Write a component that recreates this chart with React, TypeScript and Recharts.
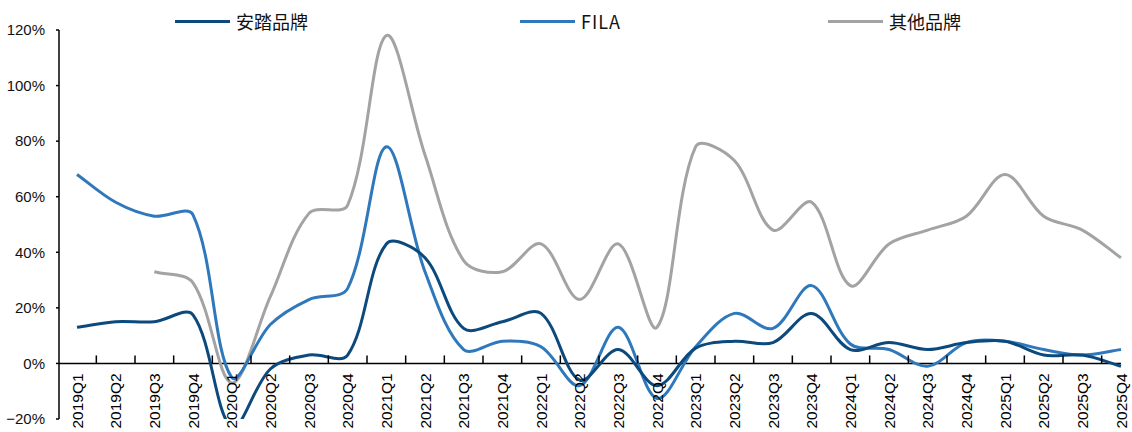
import React from 'react';
import { LineChart, Line, XAxis, YAxis, ReferenceLine } from 'recharts';

const quarters = [
  '2019Q1', '2019Q2', '2019Q3', '2019Q4',
  '2020Q1', '2020Q2', '2020Q3', '2020Q4',
  '2021Q1', '2021Q2', '2021Q3', '2021Q4',
  '2022Q1', '2022Q2', '2022Q3', '2022Q4',
  '2023Q1', '2023Q2', '2023Q3', '2023Q4',
  '2024Q1', '2024Q2', '2024Q3', '2024Q4',
  '2025Q1', '2025Q2', '2025Q3', '2025Q4',
];

// growth rates, %
const anta = [13, 15, 15, 17.5, -23, -2, 3, 3, 43, 38, 12.6, 15, 18, -6, 5, -8, 5.5, 8, 7.5, 18, 5, 7.5, 5, 7.5, 8, 3, 3, -1];
const fila = [68, 58, 53, 53.5, -5, 14, 23, 27, 78, 33, 5, 8, 6, -8, 13, -12.6, 6, 18, 12.6, 28, 7, 5, -1, 7.5, 8, 5, 3, 5];
const others = [null, null, 33, 29, -7, 24, 54, 57, 118, 75, 37, 33, 43, 23, 43, 13, 78, 73, 48, 58, 28, 43, 48, 53, 68, 53, 48, 38];

const yTicks = [-20, 0, 20, 40, 60, 80, 100, 120];

const W = 1132;
const H = 432;
const X_AXIS_H = 13;
const M = { top: 30, right: 11, bottom: 0, left: 0 };
const Y_AXIS_W = 59;
const PAD_LEFT = 18;
const plotH = H - M.top - M.bottom - X_AXIS_H;
const plotW = W - M.left - M.right - Y_AXIS_W;
const yMax = yTicks[yTicks.length - 1];
const yMin = yTicks[0];
const zeroY = M.top + (plotH * yMax) / (yMax - yMin);
const step = (plotW - PAD_LEFT) / (quarters.length - 1);

const COLORS = { anta: '#0c4a7d', fila: '#2f78bb', others: '#a3a3a3' };

const data = quarters.map((q, i) => ({ q, anta: anta[i], fila: fila[i], others: others[i] }));

// Excel-like smoothing: Catmull-Rom tangents, control arms weighted by segment length
function excelCurve(context: any) {
  let pts: number[][] = [];
  const dist = (a: number[], b: number[]) => Math.hypot(b[0] - a[0], b[1] - a[1]);
  return {
    areaStart() {},
    areaEnd() {},
    lineStart() {
      pts = [];
    },
    point(x: number, y: number) {
      pts.push([+x, +y]);
    },
    lineEnd() {
      const n = pts.length;
      if (!n) return;
      context.moveTo(pts[0][0], pts[0][1]);
      if (n === 1) return;
      const outCp: number[][] = [];
      const inCp: number[][] = [];
      for (let i = 0; i < n; i++) {
        const p = pts[i];
        const prev = pts[i - 1];
        const next = pts[i + 1];
        if (!prev || !next) {
          const other = prev || next;
          const t = [(other[0] - p[0]) / 3, (other[1] - p[1]) / 3];
          outCp[i] = [p[0] + t[0], p[1] + t[1]];
          inCp[i] = [p[0] + t[0], p[1] + t[1]];
          continue;
        }
        const d1 = dist(prev, p);
        const d2 = dist(p, next);
        const tx = next[0] - prev[0];
        const ty = next[1] - prev[1];
        const s = d1 + d2 || 1;
        outCp[i] = [p[0] + (tx * d2) / s / 3, p[1] + (ty * d2) / s / 3];
        inCp[i] = [p[0] - (tx * d1) / s / 3, p[1] - (ty * d1) / s / 3];
      }
      for (let i = 0; i < n - 1; i++) {
        context.bezierCurveTo(outCp[i][0], outCp[i][1], inCp[i + 1][0], inCp[i + 1][1], pts[i + 1][0], pts[i + 1][1]);
      }
    },
  };
}

const renderXTick = (props: any) => {
  const { x, index, payload } = props;
  const last = index === quarters.length - 1;
  return (
    <g key={`t-${index}`}>
      {!last && (
        <line x1={x + step / 2} x2={x + step / 2} y1={zeroY - 8} y2={zeroY} stroke="#000" strokeWidth={1.5} />
      )}
      <text
        transform={`translate(${x},${zeroY + 10}) rotate(-90)`}
        textAnchor="end"
        dominantBaseline="central"
        fontSize={15.5}
        fontFamily="'Liberation Sans', Arial, sans-serif"
        fill="#000"
      >
        {payload.value}
      </text>
    </g>
  );
};

const fmtPct = (v: number) => (v < 0 ? `\u2212${Math.abs(v)}%` : `${v}%`);

const legendItems = [
  { name: '安踏品牌', color: COLORS.anta, left: 175, spacing: 0 },
  { name: 'FILA', color: COLORS.fila, left: 520, spacing: 1 },
  { name: '其他品牌', color: COLORS.others, left: 828, spacing: 0 },
];

export default function App() {
  return (
    <div style={{ position: 'absolute', left: 0, top: 0, width: W, height: H, overflow: 'hidden', background: '#fff' }}>
      <LineChart width={W} height={H} data={data} margin={M}>
        <XAxis
          dataKey="q"
          height={X_AXIS_H}
          padding={{ left: PAD_LEFT, right: 0 }}
          axisLine={false}
          tickLine={false}
          interval={0}
          tick={renderXTick}
        />
        <YAxis
          width={Y_AXIS_W}
          domain={[yMin, yMax]}
          ticks={yTicks}
          allowDataOverflow
          tickFormatter={fmtPct}
          axisLine={{ stroke: '#000', strokeWidth: 1.5 }}
          tickLine={{ stroke: '#000', strokeWidth: 1.5 }}
          tickSize={3}
          tickMargin={11}
          tick={{ fontSize: 15, fill: '#111', fontFamily: "'Liberation Sans', Arial, sans-serif" }}
        />
        <ReferenceLine y={0} stroke="#000" strokeWidth={1.5} />
        <Line dataKey="others" type={excelCurve as any} stroke={COLORS.others} strokeWidth={3} dot={false} isAnimationActive={false} />
        <Line dataKey="fila" type={excelCurve as any} stroke={COLORS.fila} strokeWidth={3} dot={false} isAnimationActive={false} />
        <Line dataKey="anta" type={excelCurve as any} stroke={COLORS.anta} strokeWidth={3} dot={false} isAnimationActive={false} />
      </LineChart>
      {legendItems.map((it) => (
        <div
          key={it.name}
          style={{
            position: 'absolute',
            left: it.left,
            top: 8,
            display: 'flex',
            alignItems: 'center',
            fontFamily: "'Noto Sans CJK SC', sans-serif",
            fontSize: 18,
            color: '#111',
            letterSpacing: it.spacing,
          }}
        >
          <span style={{ display: 'inline-block', width: 55, height: 3, background: it.color, marginRight: 6 }} />
          <span>{it.name}</span>
        </div>
      ))}
    </div>
  );
}
